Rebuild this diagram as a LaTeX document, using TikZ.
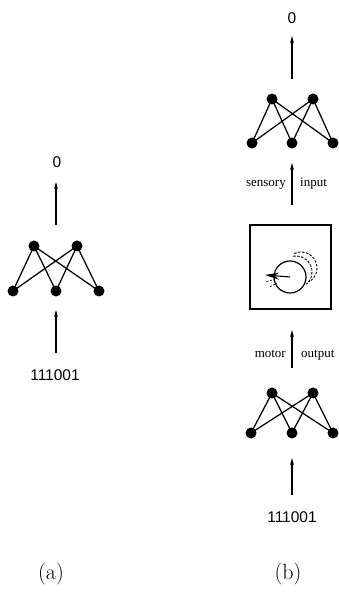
\documentclass[tikz,border=0pt]{standalone}
\usepackage{fontspec}
\setmainfont{Latin Modern Roman}
\newfontfamily\digitfont{Liberation Sans}
\newfontfamily\labelfont{Liberation Serif}
\usetikzlibrary{arrows.meta}
\tikzset{
  neuron/.style={circle,fill=black,inner sep=0pt,minimum size=11pt},
  wire/.style={line width=1.25pt},
  flow/.style={line width=1.2pt,-{Stealth[length=7pt,width=3.8pt]}},
  digits/.style={font=\digitfont\fontsize{15.5}{18}\selectfont,inner sep=0pt},
  caption/.style={font=\fontsize{22}{26}\selectfont,inner sep=0pt},
  lab/.style={font=\labelfont\fontsize{13}{15}\selectfont,inner sep=0pt},
  worldbox/.style={draw,line width=1.4pt},
  ghost/.style={line width=0.9pt,dash pattern=on 2.5pt off 1.5pt}
}
\begin{document}
\begin{tikzpicture}[x=1pt,y=1pt]
\useasboundingbox (0,0) rectangle (339,593);
% ---------------- panel (a) ----------------
\node[neuron] (at1) at (34,347) {};
\node[neuron] (at2) at (77,347) {};
\node[neuron] (ab1) at (13,302) {};
\node[neuron] (ab2) at (56,302) {};
\node[neuron] (ab3) at (99,302) {};
\foreach \t in {at1,at2}{\foreach \b in {ab1,ab2,ab3}{\draw[wire] (\t.center) -- (\b.center);}}
\node[digits] (aout) at (57,431) {0};
\coordinate (aoutS) at (56,368);
\coordinate (aoutE) at (56,411);
\draw[flow] (aoutS) -- (aoutE);
\node[digits] (ain) at (55,218) {111001};
\coordinate (ainS) at (56,240);
\coordinate (ainE) at (56,283);
\draw[flow] (ainS) -- (ainE);
\node[caption] (capa) at (51,19) {(a)};
% ---------------- panel (b) ----------------
% upper network
\node[neuron] (ut1) at (272,494) {};
\node[neuron] (ut2) at (313,494) {};
\node[neuron] (ub1) at (252,450) {};
\node[neuron] (ub2) at (292,450) {};
\node[neuron] (ub3) at (333,450) {};
\foreach \t in {ut1,ut2}{\foreach \b in {ub1,ub2,ub3}{\draw[wire] (\t.center) -- (\b.center);}}
\node[digits] (bout) at (292,575) {0};
\coordinate (boutS) at (292,514);
\coordinate (boutE) at (292,557);
\draw[flow] (boutS) -- (boutE);
% sensory input
\coordinate (sensS) at (292,388);
\coordinate (sensE) at (292,430);
\draw[flow] (sensS) -- (sensE);
\node[lab,anchor=base east] (sens) at (286,406) {sensory};
\node[lab,anchor=base west] (inp) at (300,406) {input};
% world box
\node[worldbox,minimum width=81pt,minimum height=84pt,inner sep=0pt] (world) at (290.5,326) {};
\draw[ghost] (301,325) ++(115:16pt) arc[start angle=115,end angle=-60,radius=16pt];
\draw[ghost] (296,321) ++(100:16pt) arc[start angle=100,end angle=-50,radius=16pt];
\node[circle,draw,fill=white,line width=1.2pt,minimum size=32pt,inner sep=0pt] (wheel) at (290,316) {};
\coordinate (tip) at (265,318);
\draw[line width=1.1pt,-{Stealth[length=14pt,width=7pt]}] (wheel.center) -- (tip);
\coordinate (m1a) at (266.5,311.5);
\coordinate (m1b) at (275,313.7);
\coordinate (m2a) at (270,306.3);
\coordinate (m2b) at (276.7,309.7);
\draw[line width=0.6pt,dash pattern=on 2pt off 1.5pt] (m1a) -- (m1b);
\draw[line width=0.6pt,dash pattern=on 2pt off 1.5pt] (m2a) -- (m2b);
% motor output
\coordinate (motS) at (292,225);
\coordinate (motE) at (292,263);
\draw[flow] (motS) -- (motE);
\node[lab,anchor=base east] (mot) at (286,235) {motor};
\node[lab,anchor=base west] (outp) at (301,235) {output};
% lower network
\node[neuron] (lt1) at (272,200) {};
\node[neuron] (lt2) at (313,200) {};
\node[neuron] (lb1) at (251,160) {};
\node[neuron] (lb2) at (292,160) {};
\node[neuron] (lb3) at (333,160) {};
\foreach \t in {lt1,lt2}{\foreach \b in {lb1,lb2,lb3}{\draw[wire] (\t.center) -- (\b.center);}}
\coordinate (binS) at (292,98);
\coordinate (binE) at (292,135);
\draw[flow] (binS) -- (binE);
\node[digits] (bin) at (292,76) {111001};
\node[caption] (capb) at (288,19) {(b)};
\end{tikzpicture}
\end{document}
